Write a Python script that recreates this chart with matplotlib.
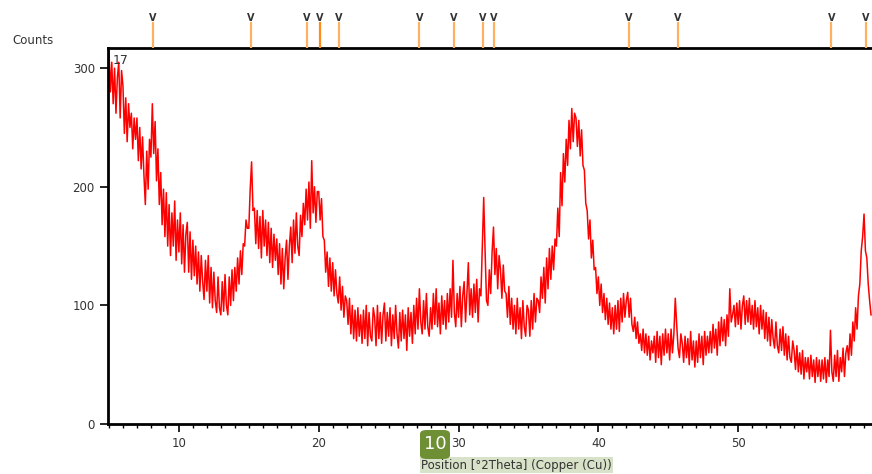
import numpy as np
import matplotlib.pyplot as plt
from matplotlib.patches import FancyBboxPatch

# scan: 5.0 .. 59.5 deg 2theta, step 0.1
start, step = 5.0, 0.1
counts = [
    315, 280, 305, 270, 300, 262, 292, 305, 258, 298,
    285, 245, 275, 238, 270, 250, 262, 232, 258, 240,
    258, 222, 250, 215, 242, 210, 185, 230, 198, 240,
    225, 270, 228, 255, 205, 232, 185, 212, 168, 198,
    158, 195, 150, 185, 142, 178, 150, 188, 138, 172,
    145, 178, 135, 168, 128, 160, 170, 128, 162, 122,
    155, 125, 150, 118, 145, 112, 142, 120, 105, 138,
    112, 142, 102, 132, 98, 128, 104, 94, 124, 98,
    92, 120, 95, 126, 100, 92, 124, 100, 130, 104,
    132, 112, 140, 118, 146, 126, 152, 150, 172, 165,
    165, 198, 221, 180, 182, 152, 180, 148, 175, 140,
    180, 150, 172, 142, 170, 136, 165, 132, 160, 138,
    156, 126, 152, 118, 148, 114, 140, 155, 122, 150,
    166, 136, 172, 144, 178, 150, 142, 176, 158, 186,
    168, 198, 172, 204, 165, 222, 178, 200, 170, 196,
    196, 172, 190, 158, 155, 128, 145, 116, 140, 112,
    136, 108, 130, 110, 102, 124, 96, 116, 90, 108,
    104, 84, 106, 76, 100, 72, 96, 70, 98, 74,
    92, 68, 96, 72, 100, 66, 94, 74, 70, 98,
    90, 66, 100, 72, 94, 68, 92, 102, 70, 94,
    74, 98, 66, 92, 72, 100, 76, 64, 94, 70,
    96, 72, 92, 62, 98, 74, 94, 68, 100, 76,
    106, 80, 114, 86, 76, 104, 80, 110, 82, 74,
    98, 80, 110, 84, 114, 82, 102, 76, 108, 84,
    104, 80, 110, 86, 114, 90, 138, 94, 82, 110,
    90, 116, 82, 108, 120, 86, 110, 136, 92, 114,
    90, 118, 94, 122, 86, 114, 108, 150, 191, 145,
    104, 100, 130, 110, 145, 166, 126, 148, 114, 142,
    130, 106, 134, 112, 110, 90, 116, 84, 106, 80,
    100, 76, 106, 80, 98, 72, 104, 82, 74, 100,
    96, 74, 104, 80, 110, 86, 106, 104, 94, 124,
    106, 132, 102, 140, 114, 148, 122, 150, 130, 156,
    150, 182, 158, 212, 184, 228, 204, 240, 218, 256,
    232, 266, 238, 262, 258, 234, 256, 226, 248, 218,
    214, 186, 180, 156, 172, 140, 155, 130, 132, 110,
    124, 100, 118, 94, 110, 88, 106, 84, 102, 80,
    98, 76, 100, 80, 104, 78, 106, 86, 110, 90,
    104, 111, 90, 106, 84, 78, 90, 72, 86, 68,
    76, 62, 80, 60, 76, 58, 74, 54, 70, 60,
    74, 52, 78, 56, 74, 50, 76, 58, 80, 60,
    76, 54, 80, 60, 76, 106, 84, 64, 56, 76,
    68, 52, 74, 56, 72, 50, 78, 54, 70, 48,
    70, 52, 76, 56, 74, 50, 78, 58, 74, 60,
    78, 60, 84, 64, 80, 58, 86, 66, 90, 70,
    88, 66, 92, 74, 114, 86, 92, 100, 82, 102,
    84, 104, 80, 100, 108, 84, 104, 86, 106, 84,
    100, 80, 104, 82, 98, 76, 100, 80, 96, 72,
    94, 70, 90, 66, 88, 72, 64, 86, 66, 60,
    80, 62, 82, 58, 76, 54, 74, 56, 52, 70,
    62, 46, 66, 44, 60, 42, 62, 38, 56, 44,
    56, 38, 58, 40, 54, 35, 56, 40, 54, 36,
    54, 38, 56, 35, 54, 40, 79, 44, 36, 58,
    40, 62, 36, 56, 44, 64, 40, 60, 66, 54,
    76, 58, 86, 70, 98, 80, 108, 118, 146, 158,
    177, 146, 140, 118, 104, 92,
]
two_theta = start + step * np.arange(len(counts))

# reference pattern lines (top strip)
ref_pos = [8.14, 15.15, 19.14, 20.07, 21.43, 27.19, 29.64, 31.74, 32.52,
           42.16, 45.66, 56.66, 59.12]

xticks = [10, 20, 30, 40, 50]
yticks = [0, 100, 200, 300]

W, H = 872, 474
fig = plt.figure(figsize=(W / 100, H / 100), dpi=100)
ax = fig.add_axes([108 / W, 1 - 424 / H, 1 - 108 / W, (424 - 48) / H])

ax.plot(two_theta, counts, color="#ff0000", lw=1.1)
ax.set_xlim(4.93, 59.57)
ax.set_ylim(0, 317)

for s in ["top", "left", "bottom"]:
    ax.spines[s].set_linewidth(2)
    ax.spines[s].set_color("black")
ax.spines["right"].set_visible(False)

ax.set_xticks(xticks)
ax.set_xticks(np.arange(5, 60), minor=True)
ax.set_yticks(yticks)
ax.tick_params(axis="both", which="major", direction="out", length=6,
               width=1.2, labelsize=8.5, labelcolor="#333333")
ax.tick_params(axis="x", which="minor", direction="out", length=3, width=1)

ax.text(0.006, 0.985, "17", transform=ax.transAxes, fontsize=9,
        color="#333333", va="top", ha="left")

# top strip with reference lines
ax2 = fig.add_axes([108 / W, 1 - 48 / H, 1 - 108 / W, 40 / H], sharex=ax)
ax2.set_ylim(0, 1)
ax2.axis("off")
for i, p in enumerate(ref_pos):
    c = "#ff8c1a" if i == 3 else "#ffb060"
    ax2.vlines(p, 0, 0.66, color=c, lw=1.6)
    ax2.text(p, 0.74, "V", fontsize=7, fontweight="bold", color="#333333",
             ha="center", va="center")

fig.text(12 / W, 1 - 40 / H, "Counts", fontsize=8.5, color="#333333",
         va="center", ha="left")

fig.text(421 / W, 1 - 465 / H, "Position [°2Theta] (Copper (Cu))",
         fontsize=8.5, color="#333333", va="center", ha="left",
         bbox=dict(facecolor="#d8e2c8", edgecolor="none", pad=1))

badge = FancyBboxPatch((420 / W, 1 - 459 / H), 30 / W, 29 / H,
                       boxstyle="round,pad=0,rounding_size=0.008",
                       transform=fig.transFigure, facecolor="#6f8f35",
                       edgecolor="none", zorder=5)
fig.patches.append(badge)
fig.text(435 / W, 1 - 444 / H, "10", fontsize=13, color="white",
         ha="center", va="center", zorder=6)

plt.savefig("out.png", dpi=100)
